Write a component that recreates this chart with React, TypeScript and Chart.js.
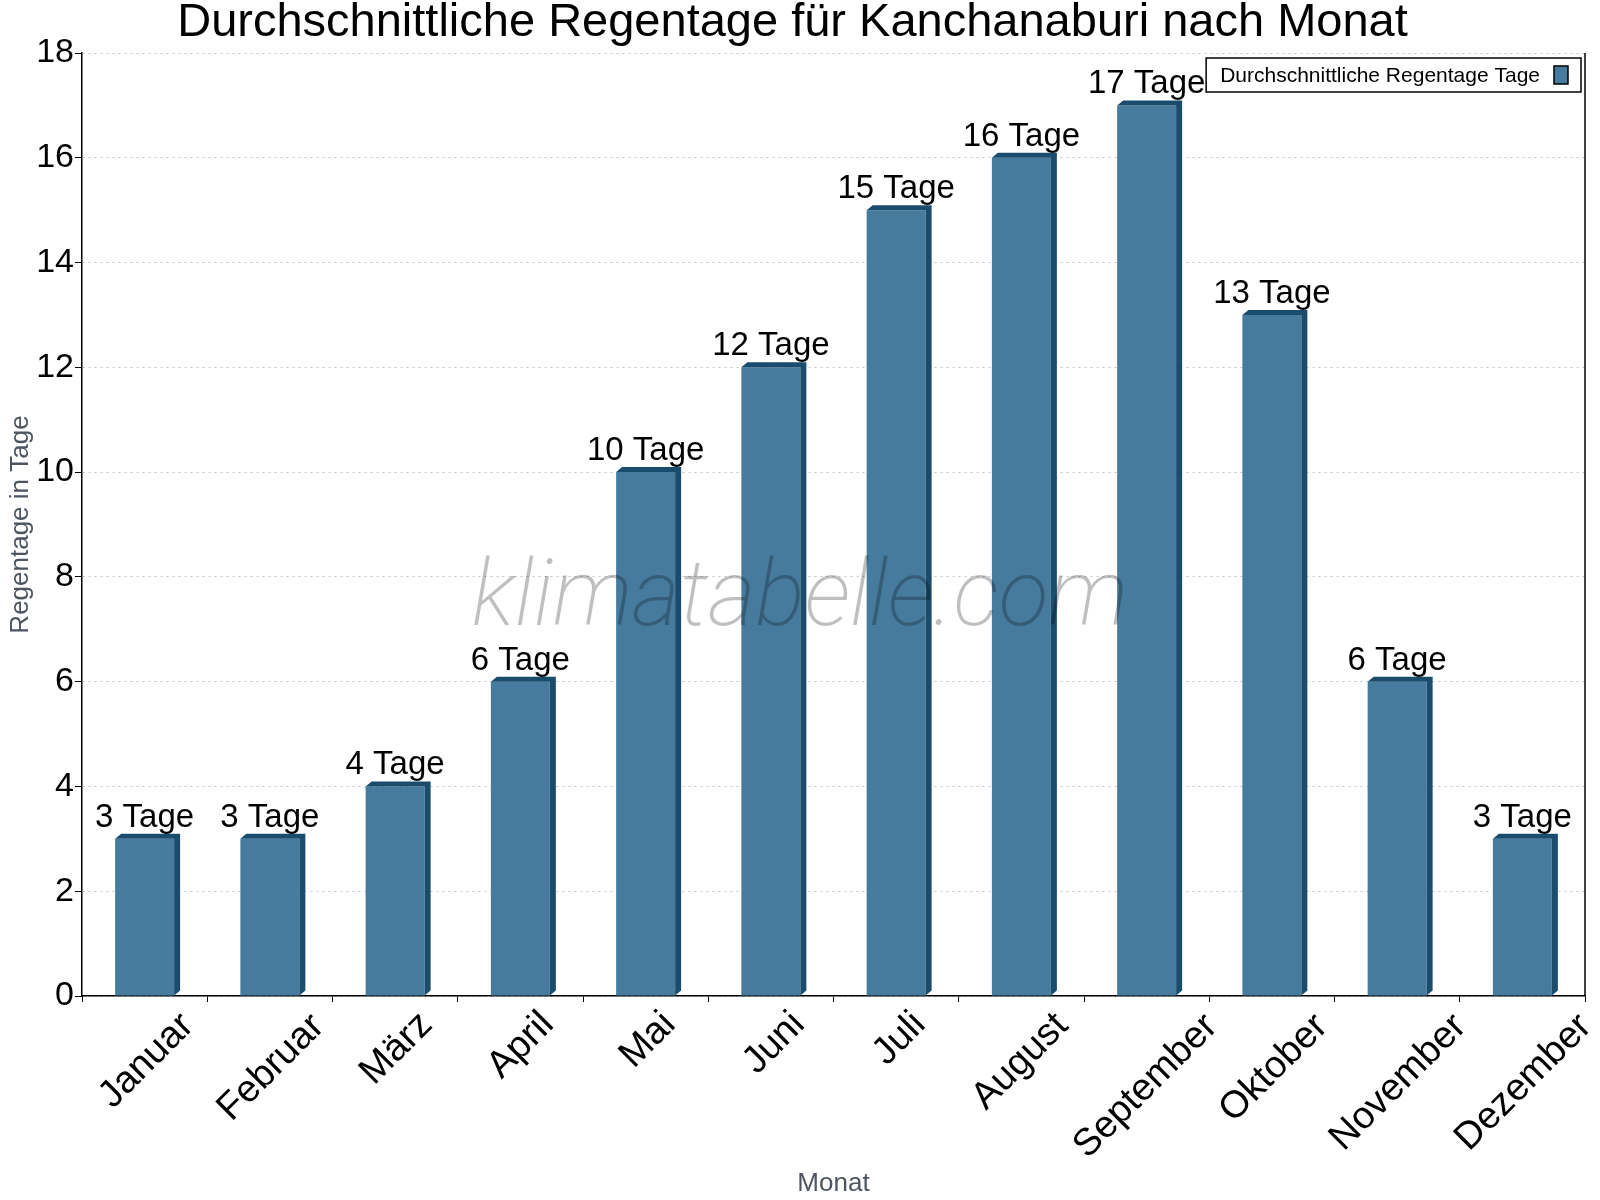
import React, { useEffect, useRef } from 'react'
import { Chart, registerables } from 'chart.js'

Chart.register(...registerables)

const chartTitle = 'Durchschnittliche Regentage für Kanchanaburi nach Monat'
const months = ['Januar', 'Februar', 'März', 'April', 'Mai', 'Juni', 'Juli', 'August', 'September', 'Oktober', 'November', 'Dezember']
const rainDays = [3, 3, 4, 6, 10, 12, 15, 16, 17, 13, 6, 3]
const seriesLabel = 'Durchschnittliche Regentage Tage'
const unit = 'Tage'
const yMin = 0
const yMax = 18
const yStep = 2
const xTitle = 'Monat'
const yTitle = 'Regentage in Tage'
const watermark = 'klimatabelle.com'

const FONT = '"Liberation Sans", Arial, sans-serif'
const FRONT = '#467b9e'
const SIDE = '#1a4c6d'

// 3d-ish bar edges, value labels, month labels, watermark, legend box
const decorPlugin = {
    id: 'decor',
    afterDatasetsDraw(chart: any) {
        const { ctx, chartArea } = chart
        const meta = chart.getDatasetMeta(0)
        const dx = 6
        const dy = 5
        ctx.save()
        meta.data.forEach((bar: any) => {
            const { x, y, base, width } = bar.getProps(['x', 'y', 'base', 'width'], true)
            const l = x - width / 2
            const r = x + width / 2
            ctx.fillStyle = SIDE
            ctx.beginPath()
            ctx.moveTo(l, y)
            ctx.lineTo(l + dx, y - dy)
            ctx.lineTo(r + dx, y - dy)
            ctx.lineTo(r + dx, base - dy)
            ctx.lineTo(r, base)
            ctx.lineTo(r, y)
            ctx.closePath()
            ctx.fill()
        })

        // watermark
        ctx.font = `italic 200 92px Roboto, ${FONT}`
        ctx.fillStyle = 'rgba(0,0,0,0.25)'
        ctx.textAlign = 'center'
        ctx.textBaseline = 'alphabetic'
        ctx.fillText(watermark, chart.width / 2, chartArea.top + (chartArea.bottom - chartArea.top) * 0.607)

        // value labels
        ctx.font = `33px ${FONT}`
        ctx.fillStyle = '#000'
        meta.data.forEach((bar: any, i: number) => {
            const { x, y } = bar.getProps(['x', 'y'], true)
            ctx.fillText(`${rainDays[i]} ${unit}`, x, y - 12)
        })
        ctx.restore()
    },
    afterDraw(chart: any) {
        const { ctx, chartArea, scales } = chart
        ctx.save()

        // right border
        ctx.strokeStyle = '#000'
        ctx.lineWidth = 1.5
        ctx.beginPath()
        ctx.moveTo(chartArea.right, chartArea.top)
        ctx.lineTo(chartArea.right, chartArea.bottom)
        ctx.stroke()

        // rotated month labels, bbox centred under each bar
        const xs = scales.x
        ctx.font = `38px ${FONT}`
        ctx.fillStyle = '#000'
        ctx.textAlign = 'left'
        ctx.textBaseline = 'alphabetic'
        months.forEach((m, i) => {
            const mt = ctx.measureText(m)
            const L = mt.actualBoundingBoxLeft
            const R = mt.actualBoundingBoxRight
            const A = mt.actualBoundingBoxAscent
            const D = mt.actualBoundingBoxDescent
            const half = (L + R + A + D) / (2 * Math.SQRT2)
            const cx = xs.getPixelForValue(i)
            const cy = chartArea.bottom + 12 + half
            ctx.save()
            ctx.translate(cx, cy)
            ctx.rotate(-Math.PI / 4)
            ctx.fillText(m, (L - R) / 2, (A - D) / 2)
            ctx.restore()
        })

        // legend box
        ctx.font = `21px ${FONT}`
        const tw = ctx.measureText(seriesLabel).width
        const sw = 14
        const sh = 18
        const boxH = 34
        const boxRight = chartArea.right - 4
        const boxTop = chartArea.top + 5
        const boxLeft = boxRight - (14 + tw + 14 + sw + 13)
        ctx.fillStyle = '#fff'
        ctx.fillRect(boxLeft, boxTop, boxRight - boxLeft, boxH)
        ctx.strokeStyle = '#000'
        ctx.lineWidth = 1.5
        ctx.strokeRect(boxLeft, boxTop, boxRight - boxLeft, boxH)
        ctx.fillStyle = '#000'
        ctx.textBaseline = 'middle'
        ctx.fillText(seriesLabel, boxLeft + 14, boxTop + boxH / 2 + 1)
        ctx.fillStyle = FRONT
        ctx.fillRect(boxRight - 13 - sw, boxTop + (boxH - sh) / 2, sw, sh)
        ctx.strokeRect(boxRight - 13 - sw, boxTop + (boxH - sh) / 2, sw, sh)
        ctx.restore()
    },
}

const RainChart = () => {
    const canvasRef = useRef<HTMLCanvasElement>(null)

    useEffect(() => {
        document.body.style.margin = '0'
        if (canvasRef.current == null) return
        const myChart = new Chart(canvasRef.current, {
            type: 'bar',
            data: {
                labels: months,
                datasets: [
                    {
                        label: seriesLabel,
                        data: rainDays,
                        backgroundColor: FRONT,
                        borderWidth: 0,
                        barPercentage: 0.471,
                        categoryPercentage: 1,
                    },
                ],
            },
            options: {
                animation: false,
                responsive: true,
                maintainAspectRatio: false,
                layout: { padding: { left: 0, right: 15, top: 0, bottom: 0 } },
                plugins: {
                    legend: { display: false },
                    tooltip: { enabled: false },
                    title: {
                        display: true,
                        text: chartTitle,
                        color: '#000',
                        font: { family: FONT, size: 47, weight: 'normal', lineHeight: 1.0 },
                        padding: { top: 0, bottom: 6 },
                    },
                },
                scales: {
                    x: {
                        grid: { display: true, drawOnChartArea: false, color: '#000', tickLength: 6, offset: true },
                        border: { color: '#000', width: 1.5 },
                        ticks: { display: false },
                        title: {
                            display: true,
                            text: xTitle,
                            color: '#4d5561',
                            font: { family: FONT, size: 26 },
                            padding: { top: 0, bottom: 1 },
                        },
                        afterFit: (s: any) => { s.height = 204 },
                    },
                    y: {
                        min: yMin,
                        max: yMax,
                        ticks: { stepSize: yStep, color: '#000', font: { family: FONT, size: 34 }, padding: 1 },
                        grid: { color: '#c4c4c4', tickColor: '#000', tickLength: 7, lineWidth: 1 },
                        border: { color: '#000', width: 1.5, dash: [2, 4] },
                        title: {
                            display: true,
                            text: yTitle,
                            color: '#4d5561',
                            font: { family: FONT, size: 26 },
                            padding: { top: 5, bottom: 0 },
                        },
                        afterFit: (s: any) => { s.width = 82 },
                    },
                },
            },
            plugins: [decorPlugin],
        } as any)

        return () => {
            myChart.destroy()
        }
    }, [canvasRef])

    return (
        <div style={{ position: 'relative', width: 1600, height: 1200 }}>
            <canvas ref={canvasRef}></canvas>
        </div>
    )
}

export default function App() {
    return <RainChart />
}
